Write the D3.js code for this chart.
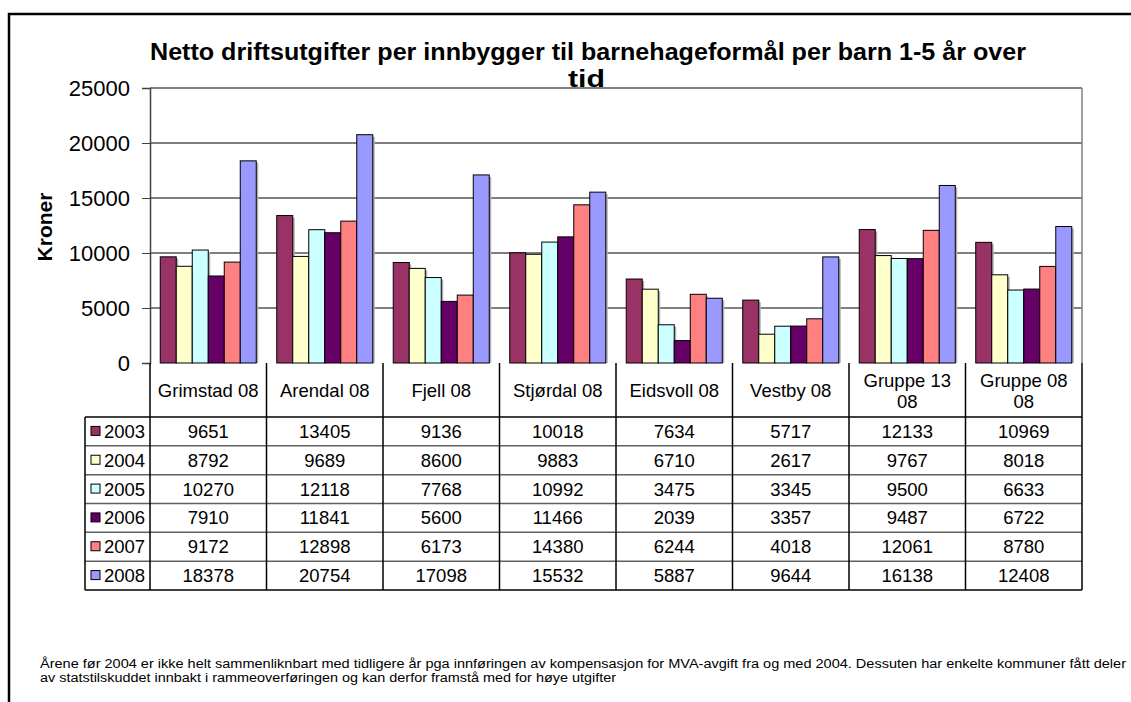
<!DOCTYPE html>
<html>
<head>
<meta charset="utf-8">
<script src="https://cdn.jsdelivr.net/npm/d3@7"></script>
<style>
  body { margin: 0; background: #fff; }
  text { font-family: Arial, "Liberation Sans", sans-serif; }
</style>
</head>
<body>
<div id="chart"></div>
<script>
// data
var categories = ["Grimstad 08", "Arendal 08", "Fjell 08", "Stjørdal 08", "Eidsvoll 08", "Vestby 08", "Gruppe 13 08", "Gruppe 08 08"];
var categoryLines = [["Grimstad 08"], ["Arendal 08"], ["Fjell 08"], ["Stjørdal 08"], ["Eidsvoll 08"], ["Vestby 08"], ["Gruppe 13", "08"], ["Gruppe 08", "08"]];
var years = ["2003", "2004", "2005", "2006", "2007", "2008"];
var v2003 = [9651, 13405, 9136, 10018, 7634, 5717, 12133, 10969];
var v2004 = [8792, 9689, 8600, 9883, 6710, 2617, 9767, 8018];
var v2005 = [10270, 12118, 7768, 10992, 3475, 3345, 9500, 6633];
var v2006 = [7910, 11841, 5600, 11466, 2039, 3357, 9487, 6722];
var v2007 = [9172, 12898, 6173, 14380, 6244, 4018, 12061, 8780];
var v2008 = [18378, 20754, 17098, 15532, 5887, 9644, 16138, 12408];
var yTicks = [0, 5000, 10000, 15000, 20000, 25000];
var colors = ["#993366", "#FFFFCC", "#CCFFFF", "#660066", "#FF8080", "#9999FF"];

var series = [v2003, v2004, v2005, v2006, v2007, v2008];

var width = 1131, height = 702;
var plotLeft = 150, plotRight = 1082, plotTop = 88, plotBottom = 363;

var svg = d3.select("#chart").append("svg")
    .attr("width", width)
    .attr("height", height);

svg.append("rect").attr("width", width).attr("height", height).attr("fill", "#fff");

// outer frame
svg.append("rect")
    .attr("x", 9).attr("y", 14)
    .attr("width", width + 10).attr("height", height + 10)
    .attr("fill", "none").attr("stroke", "#000").attr("stroke-width", 2.5);

// scales
var x0 = d3.scaleBand().domain(categories).range([plotLeft, plotRight]).padding(0);
var x1 = d3.scaleBand().domain(years).range([0, x0.bandwidth()]).paddingInner(0).paddingOuter(0.64);
var y = d3.scaleLinear().domain([0, 25000]).range([plotBottom, plotTop]);

// gridlines
svg.append("g").selectAll("line")
    .data(yTicks.filter(function(d) { return d > 0; }))
    .enter().append("line")
    .attr("x1", plotLeft).attr("x2", plotRight)
    .attr("y1", function(d) { return y(d); })
    .attr("y2", function(d) { return y(d); })
    .attr("stroke", "#000").attr("stroke-width", 1);

// plot frame (top and right side)
svg.append("line")
    .attr("x1", plotRight).attr("x2", plotRight)
    .attr("y1", plotTop).attr("y2", plotBottom)
    .attr("stroke", "#808080").attr("stroke-width", 1.5);
svg.append("line")
    .attr("x1", plotLeft).attr("x2", plotRight)
    .attr("y1", plotTop).attr("y2", plotTop)
    .attr("stroke", "#808080").attr("stroke-width", 1.5);

// bars, with a faint shadow
var groups = svg.append("g").selectAll("g")
    .data(categories)
    .enter().append("g")
    .attr("transform", function(d) { return "translate(" + x0(d) + ",0)"; });

var barData = function(d, i) {
  return years.map(function(yr, j) { return { year: yr, value: series[j][i], k: j }; });
};

groups.selectAll("rect.shadow")
    .data(barData)
    .enter().append("rect")
    .attr("class", "shadow")
    .attr("x", function(d) { return x1(d.year) + 2; })
    .attr("y", function(d) { return y(d.value) + 2; })
    .attr("width", x1.bandwidth())
    .attr("height", function(d) { return y(0) - y(d.value) - 2; })
    .attr("fill", "#b0b0b0");

groups.selectAll("rect.bar")
    .data(barData)
    .enter().append("rect")
    .attr("class", "bar")
    .attr("x", function(d) { return x1(d.year); })
    .attr("y", function(d) { return y(d.value); })
    .attr("width", x1.bandwidth())
    .attr("height", function(d) { return y(0) - y(d.value); })
    .attr("fill", function(d) { return colors[d.k]; })
    .attr("stroke", "#000").attr("stroke-width", 1);

// y axis
var yAxis = d3.axisLeft(y).tickValues(yTicks).tickSize(8).tickPadding(12).tickFormat(d3.format("d"));
var yAxisGroup = svg.append("g")
    .attr("transform", "translate(" + plotLeft + ",0)")
    .call(yAxis);
yAxisGroup.select(".domain").attr("stroke", "#404040").attr("stroke-width", 1.5);
yAxisGroup.selectAll(".tick line").attr("stroke", "#404040");
yAxisGroup.selectAll(".tick text")
    .attr("font-size", "22px")
    .attr("font-family", "Arial, 'Liberation Sans', sans-serif")
    .attr("fill", "#000")
    .attr("dy", "0.36em");

// y axis title
svg.append("text")
    .attr("transform", "translate(52,227) rotate(-90)")
    .attr("text-anchor", "middle")
    .attr("font-size", "21px")
    .attr("font-weight", "bold")
    .text("Kroner");

// title
var title = svg.append("text")
    .attr("font-size", "23px")
    .attr("font-weight", "bold");
title.append("tspan").attr("x", 150).attr("y", 60)
    .attr("textLength", 876).attr("lengthAdjust", "spacingAndGlyphs")
    .text("Netto driftsutgifter per innbygger til barnehageformål per barn 1-5 år over");
title.append("tspan").attr("x", 568).attr("y", 87)
    .attr("textLength", 37).attr("lengthAdjust", "spacingAndGlyphs")
    .text("tid");

// data table
var headTop = plotBottom, headBottom = 417, tableBottom = 590, legendLeft = 85;
var rowH = (tableBottom - headBottom) / years.length;
var table = svg.append("g");

// horizontal lines of rows
table.selectAll("line.row")
    .data(d3.range(years.length + 1))
    .enter().append("line")
    .attr("x1", legendLeft).attr("x2", plotRight)
    .attr("y1", function(i) { return headBottom + i * rowH; })
    .attr("y2", function(i) { return headBottom + i * rowH; })
    .attr("stroke", function(i) { return (i === 0 || i === years.length) ? "#000" : "#606060"; })
    .attr("stroke-width", 1.5);

// vertical lines
var vx = [plotLeft].concat(categories.map(function(c) { return x0(c) + x0.bandwidth(); }));
table.selectAll("line.col")
    .data(vx)
    .enter().append("line")
    .attr("x1", function(d) { return d; }).attr("x2", function(d) { return d; })
    .attr("y1", headTop).attr("y2", tableBottom)
    .attr("stroke", "#000").attr("stroke-width", 1.5);
table.append("line")
    .attr("x1", legendLeft).attr("x2", legendLeft)
    .attr("y1", headBottom).attr("y2", tableBottom)
    .attr("stroke", "#000").attr("stroke-width", 1.5);

// category labels
table.selectAll("text.cat")
    .data(categoryLines)
    .enter().append("text")
    .attr("text-anchor", "middle")
    .attr("font-size", "18.5px")
    .each(function(lines, i) {
      var cx = x0(categories[i]) + x0.bandwidth() / 2;
      var mid = (headTop + headBottom) / 2;
      var sel = d3.select(this);
      lines.forEach(function(l, k) {
        sel.append("tspan")
          .attr("x", cx)
          .attr("y", mid + 7 + (k - (lines.length - 1) / 2) * 21)
          .text(l);
      });
    });

// legend keys and year labels
years.forEach(function(yr, j) {
  var cy = headBottom + j * rowH + rowH / 2;
  table.append("rect")
      .attr("x", 91).attr("y", cy - 5)
      .attr("width", 9).attr("height", 9)
      .attr("fill", colors[j]).attr("stroke", "#000").attr("stroke-width", 1);
  table.append("text")
      .attr("x", 104).attr("y", cy + 6.5)
      .attr("font-size", "18.5px")
      .text(yr);
  table.selectAll("text.v" + j)
      .data(series[j])
      .enter().append("text")
      .attr("x", function(d, i) { return x0(categories[i]) + x0.bandwidth() / 2; })
      .attr("y", cy + 6.5)
      .attr("text-anchor", "middle")
      .attr("font-size", "18.5px")
      .text(function(d) { return d; });
});

// footnote
var note = svg.append("text").attr("font-size", "12.5px");
note.append("tspan").attr("x", 40).attr("y", 668)
    .attr("textLength", 1086).attr("lengthAdjust", "spacingAndGlyphs")
    .text("Årene før 2004 er ikke helt sammenliknbart  med tidligere  år pga innføringen  av kompensasjon  for MVA-avgift fra og med 2004. Dessuten  har enkelte  kommuner fått deler");
note.append("tspan").attr("x", 40).attr("y", 682)
    .attr("textLength", 576).attr("lengthAdjust", "spacingAndGlyphs")
    .text("av statstilskuddet  innbakt i rammeoverføringen  og kan derfor framstå med for høye utgifter");
</script>
</body>
</html>
